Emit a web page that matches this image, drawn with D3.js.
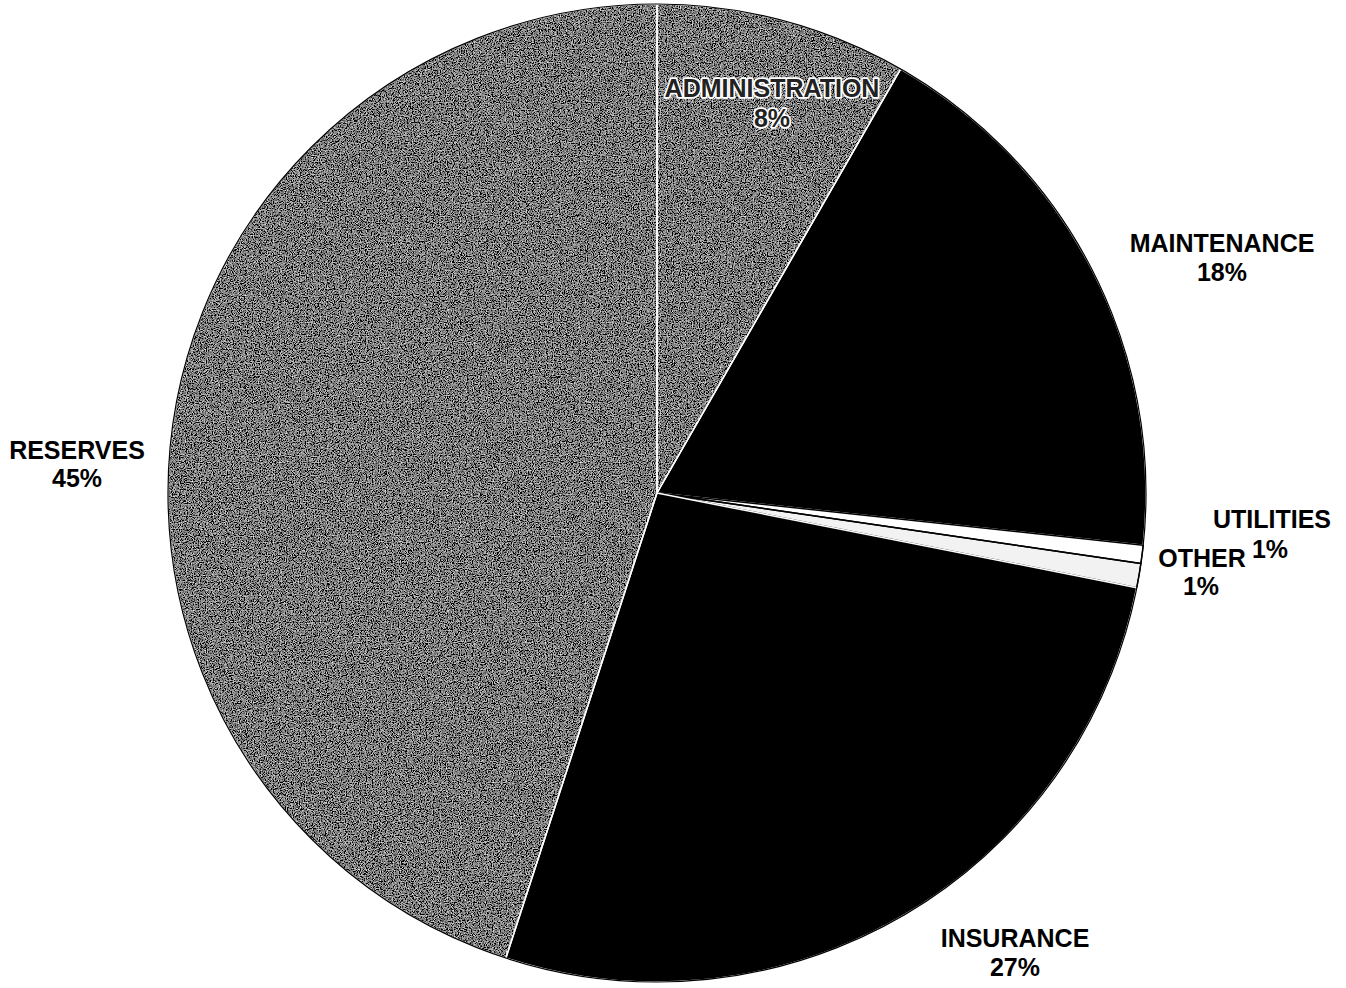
<!DOCTYPE html>
<html>
<head>
<meta charset="utf-8">
<script src="https://cdn.jsdelivr.net/npm/d3@7"></script>
<style>
  html, body { margin: 0; padding: 0; background: #fff; }
  svg { display: block; }
  text { font-family: "Liberation Sans", Arial, sans-serif; font-weight: bold; }
</style>
</head>
<body>
<svg id="chart" width="1346" height="988"></svg>
<script>
// Budget share by category, clockwise from 12 o'clock
const categories = ["ADMINISTRATION", "MAINTENANCE", "UTILITIES", "OTHER", "INSURANCE", "RESERVES"];
const shares     = [8.3, 18.4, 0.6, 0.8, 26.9, 45.0];
const pctLabels  = ["8%", "18%", "1%", "1%", "27%", "45%"];
const fills      = ["grain", "#000", "#fff", "#f2f2f2", "#000", "grain"];

// Label anchors relative to pie centre (name line, percent line)
const labelLayout = {
  "ADMINISTRATION": { dx: 115, dy: -396, pdx: 115, pdy: -366, halo: true },
  "MAINTENANCE":    { dx: 565, dy: -241, pdx: 565, pdy: -212 },
  "UTILITIES":      { dx: 615, dy: 35,   pdx: 613, pdy: 65 },
  "OTHER":          { dx: 545, dy: 74,   pdx: 544, pdy: 102 },
  "INSURANCE":      { dx: 358, dy: 454,  pdx: 358, pdy: 483 },
  "RESERVES":       { dx: -580, dy: -34, pdx: -580, pdy: -6 }
};

const width = 1346, height = 988;
const cx = 657, cy = 493, radius = 489;

const svg = d3.select("#chart");
const defs = svg.append("defs");

// Grainy halftone-like fill for the grey slices
const f = defs.append("filter").attr("id", "grainFill")
  .attr("x", "0%").attr("y", "0%").attr("width", "100%").attr("height", "100%");
f.append("feTurbulence").attr("type", "fractalNoise").attr("baseFrequency", "0.85")
  .attr("numOctaves", 2).attr("seed", 7).attr("result", "noise");
f.append("feColorMatrix").attr("in", "noise").attr("type", "matrix")
  .attr("values", "0.33 0.33 0.33 0 0  0.33 0.33 0.33 0 0  0.33 0.33 0.33 0 0  0 0 0 0 1")
  .attr("result", "grey");
const ct = f.append("feComponentTransfer").attr("in", "grey").attr("result", "contrast");
["feFuncR", "feFuncG", "feFuncB"].forEach(fn =>
  ct.append(fn).attr("type", "linear").attr("slope", 3.2).attr("intercept", -1.38));
f.append("feComposite").attr("in", "contrast").attr("in2", "SourceGraphic").attr("operator", "in");

const data = categories.map((c, i) => ({ name: c, value: shares[i], pct: pctLabels[i], fill: fills[i] }));

const pie = d3.pie().value(d => d.value).sort(null);
const arc = d3.arc().innerRadius(0).outerRadius(radius);
const arcs = pie(data);

const g = svg.append("g").attr("transform", `translate(${cx},${cy})`);

// Slices
g.selectAll("path.slice").data(arcs).join("path")
  .attr("class", "slice")
  .attr("d", arc)
  .attr("fill", d => d.data.fill === "grain" ? "#888" : d.data.fill)
  .attr("filter", d => d.data.fill === "grain" ? "url(#grainFill)" : null);

// Slice edges
g.selectAll("path.edge").data(arcs).join("path")
  .attr("class", "edge")
  .attr("d", arc)
  .attr("fill", "none")
  .attr("stroke", d => d.data.fill === "#fff" || d.data.fill === "#f2f2f2" ? "#000" : "#fff")
  .attr("stroke-width", 1.5)
  .attr("stroke-linejoin", "round");

// Outer rim
g.append("circle").attr("r", radius).attr("fill", "none").attr("stroke", "#000").attr("stroke-width", 1.2);

// Labels (the one sitting on the grey slice gets a white halo)
const labels = g.selectAll("g.label").data(arcs).join("g").attr("class", "label");
labels.each(function (d) {
  const L = labelLayout[d.data.name];
  const sel = d3.select(this);
  const lines = [[d.data.name, L.dx, L.dy], [d.data.pct, L.pdx, L.pdy]];
  lines.forEach(([txt, x, y]) => {
    const t = sel.append("text").attr("x", x).attr("y", y).attr("text-anchor", "middle")
      .attr("font-size", 25).attr("fill", L.halo ? "#222" : "#000").text(txt);
    if (L.halo) {
      t.attr("stroke", "#fff").attr("stroke-width", 3.5)
        .attr("stroke-linejoin", "round").attr("paint-order", "stroke");
    }
  });
});
</script>
</body>
</html>
